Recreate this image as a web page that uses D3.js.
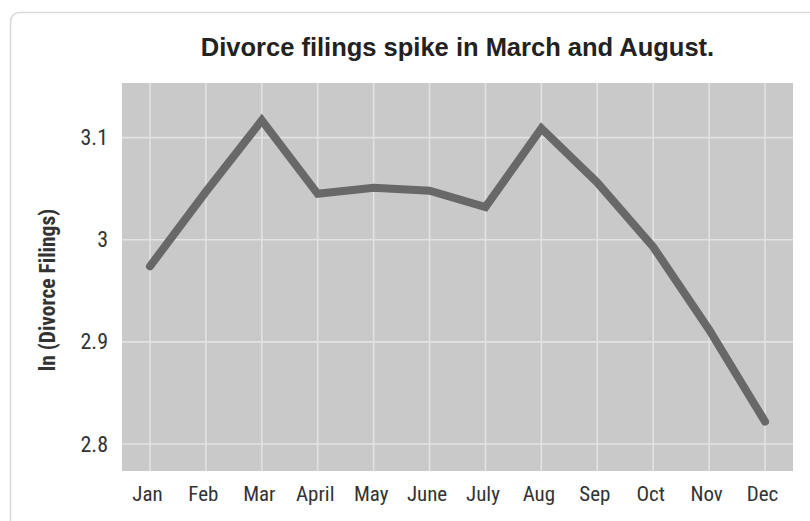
<!DOCTYPE html>
<html><head><meta charset="utf-8">
<script src="https://cdn.jsdelivr.net/npm/d3@7"></script>
<style>
html,body{margin:0;padding:0;background:#fff;}
svg{display:block;}
</style></head>
<body>
<svg id="chart" width="810" height="521"></svg>
<script>
const months = ["Jan","Feb","Mar","April","May","June","July","Aug","Sep","Oct","Nov","Dec"];
const lnFilings = [2.974, 3.047, 3.117, 3.045, 3.051, 3.048, 3.032, 3.109, 3.056, 2.993, 2.912, 2.822];
const yTicks = [2.8, 2.9, 3.0, 3.1];
const yTickLabels = ["2.8", "2.9", "3", "3.1"];
const title = "Divorce filings spike in March and August.";
const yTitle = "ln (Divorce Filings)";

const svg = d3.select("#chart");
const narrow = "'Liberation Sans Narrow', 'Arial Narrow', 'Roboto Condensed', 'Liberation Sans', sans-serif";
const plot = {left:122, right:793, top:83, bottom:471};

// card
svg.append("rect").attr("x",10.5).attr("y",12.5).attr("width",820).attr("height",540)
  .attr("rx",9).attr("fill","#fff").attr("stroke","#d9d9d9").attr("stroke-width",1.5);

const x = d3.scalePoint().domain(months).range([plot.left, plot.right]).padding(0.5);
const y = d3.scaleLinear().domain([2.7736, 3.1535]).range([plot.bottom, plot.top]);

svg.append("rect").attr("x",plot.left).attr("y",plot.top)
  .attr("width",plot.right-plot.left).attr("height",plot.bottom-plot.top).attr("fill","#c9c9c9");

const g = svg.append("g");
g.selectAll("line.vg").data(months).join("line").attr("class","vg")
  .attr("x1",d=>x(d)).attr("x2",d=>x(d)).attr("y1",plot.top).attr("y2",plot.bottom)
  .attr("stroke","#e2e2e2").attr("stroke-width",1.6);
g.selectAll("line.hg").data(yTicks).join("line").attr("class","hg")
  .attr("x1",plot.left).attr("x2",plot.right).attr("y1",d=>y(d)).attr("y2",d=>y(d))
  .attr("stroke","#e2e2e2").attr("stroke-width",1.6);

// axes
const yAxis = d3.axisLeft(y).tickValues(yTicks).tickFormat((d,i)=>yTickLabels[i]).tickSize(0).tickPadding(14);
const ya = svg.append("g").attr("transform",`translate(${plot.left},0)`).call(yAxis);
ya.select(".domain").remove();
ya.selectAll("text").attr("font-family",narrow).attr("font-size",22).attr("fill","#333");

const xAxis = d3.axisBottom(x).tickSize(0).tickPadding(15);
const xa = svg.append("g").attr("transform",`translate(-3,${plot.bottom})`).call(xAxis);
xa.select(".domain").remove();
xa.selectAll("text").attr("font-family",narrow).attr("font-size",21).attr("fill","#333");

// line
const line = d3.line().x((d,i)=>x(months[i])).y(d=>y(d));
svg.append("path").datum(lnFilings).attr("d",line).attr("fill","none")
  .attr("stroke","#686868").attr("stroke-width",8).attr("stroke-linejoin","miter").attr("stroke-linecap","round");

// titles
svg.append("text").attr("x",(plot.left+plot.right)/2).attr("y",56).attr("text-anchor","middle")
  .attr("font-family","'Liberation Sans', Arial, sans-serif").attr("font-weight","bold")
  .attr("font-size",25.5).attr("fill","#222").text(title);

svg.append("text").attr("transform","translate(55,290) rotate(-90)").attr("text-anchor","middle")
  .attr("font-family",narrow).attr("font-weight","bold").attr("font-size",21.5).attr("fill","#333").text(yTitle);
</script>
</body></html>
